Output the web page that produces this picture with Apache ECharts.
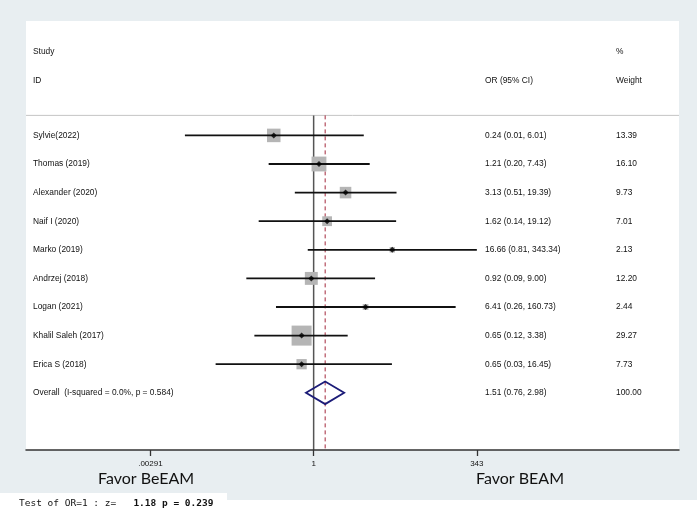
<!DOCTYPE html>
<html>
<head>
<meta charset="utf-8">
<script src="https://cdn.jsdelivr.net/npm/echarts@6/dist/echarts.min.js"></script>
<style>html,body{margin:0;padding:0;background:#fff}#c{width:700px;height:513px}</style>
</head>
<body>
<div id="c"></div>
<script>
const studies = ['Sylvie(2022)','Thomas (2019)','Alexander (2020)','Naif I (2020)','Marko (2019)','Andrzej (2018)','Logan (2021)','Khalil Saleh (2017)','Erica S (2018)'];
const orValues = [0.24,1.21,3.13,1.62,16.66,0.92,6.41,0.65,0.65];
const ciLow = [0.01,0.20,0.51,0.14,0.81,0.09,0.26,0.12,0.03];
const ciHigh = [6.01,7.43,19.39,19.12,343.34,9.00,160.73,3.38,16.45];
const weights = [13.39,16.10,9.73,7.01,2.13,12.20,2.44,29.27,7.73];
const overallLabel = 'Overall  (I-squared = 0.0%, p = 0.584)';
const overall = {or: 1.51, lo: 0.76, hi: 2.98, weight: 100.00};
const tickValues = [0.00291, 1, 343];
const tickLabels = ['.00291', '1', '343'];

const fmt2 = v => v.toFixed(2);
const ln = Math.log;
const nRows = studies.length;

const rowLabels = studies.concat([overallLabel]);
const ciText = orValues.map((v,i)=>fmt2(v)+' ('+fmt2(ciLow[i])+', '+fmt2(ciHigh[i])+')')
  .concat([fmt2(overall.or)+' ('+fmt2(overall.lo)+', '+fmt2(overall.hi)+')']);
const weightText = weights.map(fmt2).concat([fmt2(overall.weight)]);

const studyData = orValues.map((v,i)=>[ln(v), i, ln(ciLow[i]), ln(ciHigh[i]), weights[i]]);
const textData = rowLabels.map((s,i)=>[0, i]);

const FONT = '"Liberation Sans", Arial, sans-serif';
const TXT = '#111';
const FS = 8.4;
const HEADER_Y = -0.7;

const chart = echarts.init(document.getElementById('c'));
chart.setOption({
  backgroundColor: '#fff',
  animation: false,
  grid: {left: 26, right: 21, top: 21, bottom: 63, show: false},
  xAxis: {
    type: 'value', min: -10.29, max: 13.07, z: 10,
    splitLine: {show: false},
    axisLine: {show: true, onZero: false, lineStyle: {color: '#333', width: 1.5}},
    axisTick: {show: true, length: 6, lineStyle: {color: '#333', width: 1.3}, customValues: tickValues.map(ln)},
    axisLabel: {
      customValues: tickValues.map(ln), fontSize: 8, color: TXT, fontFamily: FONT, margin: 10,
      formatter: v => { let k = 0, d = Infinity; tickValues.forEach((t,i)=>{ const e = Math.abs(ln(t)-v); if (e<d){d=e;k=i;} }); return tickLabels[k]; }
    }
  },
  yAxis: {type: 'value', min: -4, max: 11, inverse: true, show: false},
  graphic: [
    {type: 'rect', z: -20, silent: true, shape: {x: 0, y: 0, width: 697, height: 500}, style: {fill: '#e8eef1'}},
    {type: 'rect', z: -19, silent: true, shape: {x: 26, y: 21, width: 653, height: 429}, style: {fill: '#ffffff'}},
    {type: 'rect', z: -19, silent: true, shape: {x: 0, y: 493, width: 227, height: 20}, style: {fill: '#ffffff'}},
    {type: 'text', z: 5, style: {text: 'Study', x: 33, y: 52, fontSize: FS, fontFamily: FONT, fill: TXT, verticalAlign: 'middle'}},
    {type: 'text', z: 5, style: {text: 'ID', x: 33, y: 80.5, fontSize: FS, fontFamily: FONT, fill: TXT, verticalAlign: 'middle'}},
    {type: 'text', z: 5, style: {text: 'OR (95% CI)', x: 485, y: 80.5, fontSize: FS, fontFamily: FONT, fill: TXT, verticalAlign: 'middle'}},
    {type: 'text', z: 5, style: {text: '%', x: 616, y: 52, fontSize: FS, fontFamily: FONT, fill: TXT, verticalAlign: 'middle'}},
    {type: 'text', z: 5, style: {text: 'Weight', x: 616, y: 80.5, fontSize: FS, fontFamily: FONT, fill: TXT, verticalAlign: 'middle'}},
    {type: 'text', z: 5, style: {text: 'Favor BeEAM', x: 98, y: 479, fontSize: 16, fontFamily: 'Lato, "Open Sans", sans-serif', fill: '#111', verticalAlign: 'middle'}},
    {type: 'text', z: 5, style: {text: 'Favor BEAM', x: 476, y: 479, fontSize: 16, fontFamily: 'Lato, "Open Sans", sans-serif', fill: '#111', verticalAlign: 'middle'}},
    {type: 'text', z: 5, style: {
      text: '{n|Test of OR=1 : z=   }{b|1.18 p = 0.239}', x: 19, y: 504, verticalAlign: 'middle',
      rich: {n: {fontSize: 9.5, fontFamily: '"DejaVu Sans Mono", monospace', fill: '#111'},
             b: {fontSize: 9.5, fontFamily: '"DejaVu Sans Mono", monospace', fontWeight: 'bold', fill: '#111'}}
    }}
  ],
  series: [
    {
      type: 'custom', name: 'frame', z: 1, silent: true,
      data: [[0, 0]],
      renderItem: (params, api) => {
        const cs = params.coordSys;
        const p1a = api.coord([0, HEADER_Y]), p1b = api.coord([0, 11]);
        const p2a = api.coord([ln(overall.or), HEADER_Y]), p2b = api.coord([ln(overall.or), 11]);
        return {type: 'group', children: [
          {type: 'line', shape: {x1: cs.x, y1: p1a[1], x2: cs.x + cs.width, y2: p1a[1]}, style: {stroke: '#c4c4c4', lineWidth: 1}},
          {type: 'line', shape: {x1: p1a[0], y1: p1a[1], x2: p1b[0], y2: p1b[1]}, style: {stroke: '#555', lineWidth: 1.5}},
          {type: 'line', shape: {x1: p2a[0], y1: p2a[1], x2: p2b[0], y2: p2b[1]}, style: {stroke: '#a3283c', lineWidth: 1, lineDash: [4, 3]}}
        ]};
      }
    },
    {
      type: 'custom', name: 'boxes', z: 3, silent: true,
      data: studyData,
      renderItem: (params, api) => {
        const c = api.coord([api.value(0), api.value(1)]);
        const s = 3.7 * Math.sqrt(api.value(4));
        return {type: 'rect', shape: {x: c[0] - s/2, y: c[1] - s/2, width: s, height: s}, style: {fill: '#b5b5b5'}};
      }
    },
    {
      type: 'custom', name: 'ci', z: 4, silent: true,
      data: studyData,
      renderItem: (params, api) => {
        const a = api.coord([api.value(2), api.value(1)]);
        const b = api.coord([api.value(3), api.value(1)]);
        return {type: 'line', shape: {x1: a[0], y1: a[1], x2: b[0], y2: b[1]}, style: {stroke: '#111', lineWidth: 1.8}};
      }
    },
    {
      type: 'scatter', name: 'or', z: 5, silent: true,
      symbol: 'diamond', symbolSize: 6,
      itemStyle: {color: '#000'},
      data: studyData.map(d => [d[0], d[1]])
    },
    {
      type: 'custom', name: 'overall', z: 5, silent: true,
      data: [[ln(overall.or), nRows, ln(overall.lo), ln(overall.hi)]],
      renderItem: (params, api) => {
        const m = api.coord([api.value(0), api.value(1)]);
        const l = api.coord([api.value(2), api.value(1)]);
        const r = api.coord([api.value(3), api.value(1)]);
        const h = 11.3;
        return {type: 'polygon', shape: {points: [[l[0], m[1]], [m[0], m[1] - h], [r[0], m[1]], [m[0], m[1] + h]]},
                style: {fill: 'none', stroke: '#1c1c78', lineWidth: 1.8}};
      }
    },
    {
      type: 'custom', name: 'text', z: 6, silent: true,
      data: textData,
      renderItem: (params, api) => {
        const cs = params.coordSys;
        const i = params.dataIndex;
        const y = api.coord([0, api.value(1)])[1];
        const st = {fontSize: FS, fontFamily: FONT, fill: TXT, verticalAlign: 'middle', align: 'left'};
        return {type: 'group', children: [
          {type: 'text', style: Object.assign({text: rowLabels[i], x: cs.x + 7, y: y}, st)},
          {type: 'text', style: Object.assign({text: ciText[i], x: cs.x + 459, y: y}, st)},
          {type: 'text', style: Object.assign({text: weightText[i], x: cs.x + 590, y: y}, st)}
        ]};
      }
    }
  ]
});
</script>
</body>
</html>
